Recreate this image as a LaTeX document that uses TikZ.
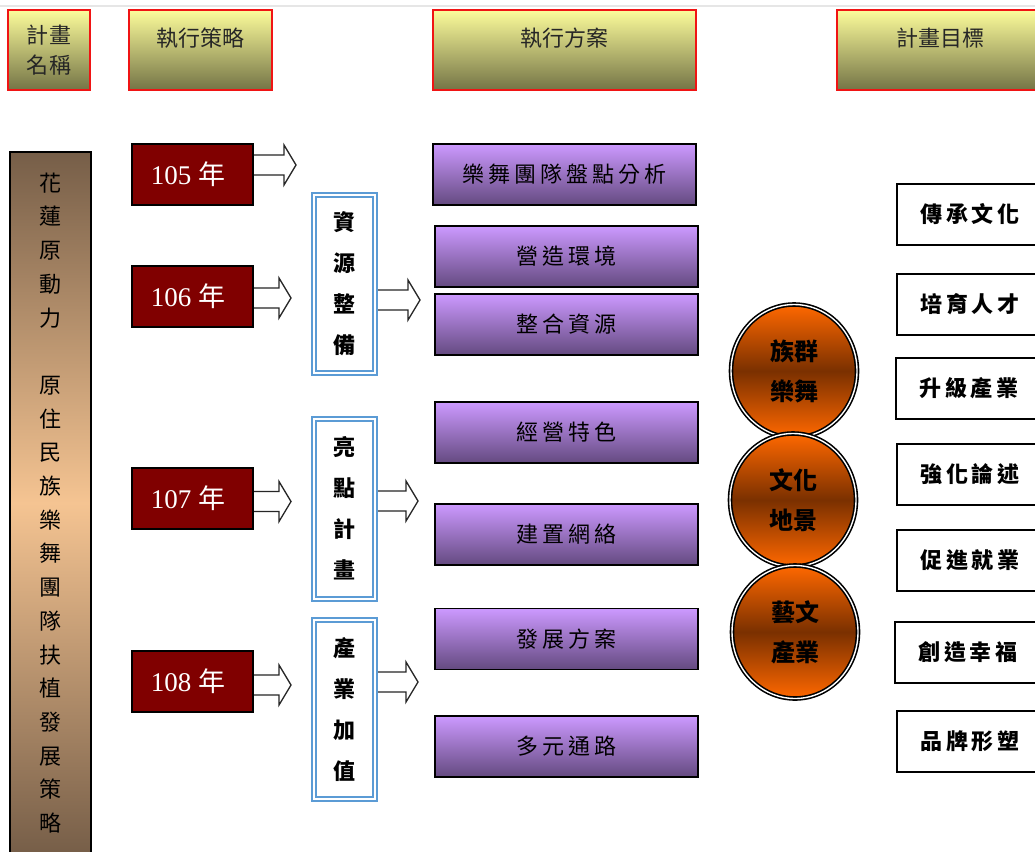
\documentclass[tikz,border=0pt]{standalone}
\usepackage{fontspec}
\setmainfont{Liberation Serif}
\newfontfamily\cjk{Noto Sans CJK TC}
\newfontfamily\cjkls{Noto Sans CJK TC}[LetterSpace=18]
\usetikzlibrary{shapes.geometric,calc}
\definecolor{hdrtop}{RGB}{252,252,155}
\definecolor{hdrbot}{RGB}{116,116,70}
\definecolor{brdark}{RGB}{118,94,72}
\definecolor{brlight}{RGB}{245,196,146}
\definecolor{yearred}{RGB}{128,0,0}
\definecolor{purtop}{RGB}{204,153,255}
\definecolor{purbot}{RGB}{100,74,128}
\definecolor{orlight}{RGB}{255,104,0}
\definecolor{ordark}{RGB}{122,48,0}
\definecolor{bluebd}{RGB}{91,155,213}
\definecolor{topline}{RGB}{230,230,230}
\pgfdeclarelayer{bg}
\pgfsetlayers{bg,main}
\tikzset{
  header/.style={draw={rgb,255:red,240;green,20;blue,20}, line width=1.8pt, top color=hdrtop, bottom color=hdrbot, minimum height=80pt, inner sep=0pt, font=\cjk\fontsize{22}{30}\selectfont, text=black!85},
  hdrtext/.style={text height=16pt, text depth=24pt},
  yearbox/.style={draw=black, line width=2pt, fill=yearred, minimum width=121pt, minimum height=61pt, inner sep=0pt, text=white, font=\fontsize{27}{30}\selectfont},
  purbox/.style={draw=black, line width=1.5pt, top color=purtop, bottom color=purbot, minimum width=263pt, minimum height=61pt, inner sep=0pt, font=\cjkls\fontsize{22}{26}\selectfont, text=black},
  bluebox/.style={draw=bluebd, line width=2pt, double=white, double distance=2pt, fill=white, minimum width=61pt, inner sep=0pt, align=center, font=\cjk\bfseries\fontsize{22}{41}\selectfont},
  goalbox/.style={draw=black, line width=2pt, fill=white, minimum width=146pt, minimum height=61pt, inner sep=0pt, font=\cjkls\bfseries\fontsize{22}{26}\selectfont},
  orb/.style={ellipse, draw=black, line width=1.6pt, double=white, double distance=1.4pt, top color=orlight, bottom color=orlight, middle color=ordark, minimum width=126pt, minimum height=133pt, inner sep=0pt, align=center, font=\cjk\bfseries\fontsize{24}{40}\selectfont},
  blockarr/.style={draw=black!85, line width=1.3pt, fill=white, line join=miter},
}
\newcommand{\blockarrow}[2]{%
  \draw[blockarr] #1 ++(0,-10) -- ++({#2-12},0) -- ++(0,-10) -- ++(12,20) -- ++(-12,20) -- ++(0,-10) -- ++({12-#2},0);}
\begin{document}
\begin{tikzpicture}[x=1pt,y=-1pt]
\useasboundingbox (0,0) rectangle (1035,851);
\fill[white] (0,0) rectangle (1035,851);
\coordinate (tl) at (0,6);
\coordinate (tr) at (1035,6);
\draw[topline, line width=1.5pt] (tl) -- (tr);

% headers
\node[header, minimum width=82pt, align=center] (h1) at (49,50) {計畫\\名稱};
\node[header, hdrtext, minimum width=143pt] (h2) at (200.5,50) {執行策略};
\node[header, hdrtext, minimum width=263pt] (h3) at (564.5,50) {執行方案};
\node[header, hdrtext, minimum width=206pt] (h4) at (940,50) {計畫目標};

% left tall box
\node[draw=black, line width=1.8pt, top color=brdark, bottom color=brdark, middle color=brlight,
      minimum width=81pt, minimum height=702pt, inner sep=0pt, align=center,
      font=\cjk\fontsize{22}{33.7}\selectfont] (plan) at (50.5,503)
  {花\\蓮\\原\\動\\力\\[33.7pt]原\\住\\民\\族\\樂\\舞\\團\\隊\\扶\\植\\發\\展\\策\\略};

% year boxes
\node[yearbox] (y105) at (192.5,174.5) {\hspace*{-9pt}105 {\cjk 年}};
\node[yearbox] (y106) at (192.5,296.5) {\hspace*{-9pt}106 {\cjk 年}};
\node[yearbox] (y107) at (192.5,498.5) {\hspace*{-9pt}107 {\cjk 年}};
\node[yearbox] (y108) at (192.5,681.5) {\hspace*{-9pt}108 {\cjk 年}};

% strategy boxes
\node[bluebox, minimum height=178pt] (s1) at (344,283.5) {資\\源\\整\\備};
\node[bluebox, minimum height=180pt] (s2) at (344,508.5) {亮\\點\\計\\畫};
\node[bluebox, minimum height=179pt] (s3) at (344,709) {產\\業\\加\\值};

% plan boxes
\node[purbox] (p1) at (564.5,174.5) {樂舞團隊盤點分析};
\node[purbox] (p2) at (566.5,256.5) {營造環境};
\node[purbox] (p3) at (566.5,324.5) {整合資源};
\node[purbox] (p4) at (566.5,432.5) {經營特色};
\node[purbox] (p5) at (566.5,534.5) {建置網絡};
\node[purbox] (p6) at (566.5,639) {發展方案};
\node[purbox] (p7) at (566.5,746.5) {多元通路};

% circles
\node[orb] (c1) at (794,371) {族群\\樂舞};
\node[orb] (c2) at (793,500) {文化\\地景};
\node[orb] (c3) at (795,632) {藝文\\產業};

% goal boxes
\node[goalbox] (g1) at (970,214.5) {傳承文化};
\node[goalbox] (g2) at (970,304.5) {培育人才};
\node[goalbox] (g3) at (969,388.5) {升級產業};
\node[goalbox] (g4) at (970,474.5) {強化論述};
\node[goalbox] (g5) at (970,560.5) {促進就業};
\node[goalbox] (g6) at (968,652.5) {創造幸福};
\node[goalbox] (g7) at (970,741.5) {品牌形塑};

% block arrows
\blockarrow{($(y105.east)+(0,-9.5)$)}{42}
\blockarrow{($(y106.east)+(0,1.5)$)}{37}
\blockarrow{($(y107.east)+(0,3)$)}{37}
\blockarrow{($(y108.east)+(0,3.5)$)}{37}
\blockarrow{($(s1.east)+(2.5,16.5)$)}{42}
\blockarrow{($(s2.east)+(2.5,-7.5)$)}{40}
\blockarrow{($(s3.east)+(2.5,-27)$)}{40}
\begin{pgfonlayer}{bg}
\blockarrow{($(p5.east |- c2.west)+(0,-2)$)}{38}
\blockarrow{($(c2.east)+(-6,-5)$)}{40}
\end{pgfonlayer}
\end{tikzpicture}
\end{document}
